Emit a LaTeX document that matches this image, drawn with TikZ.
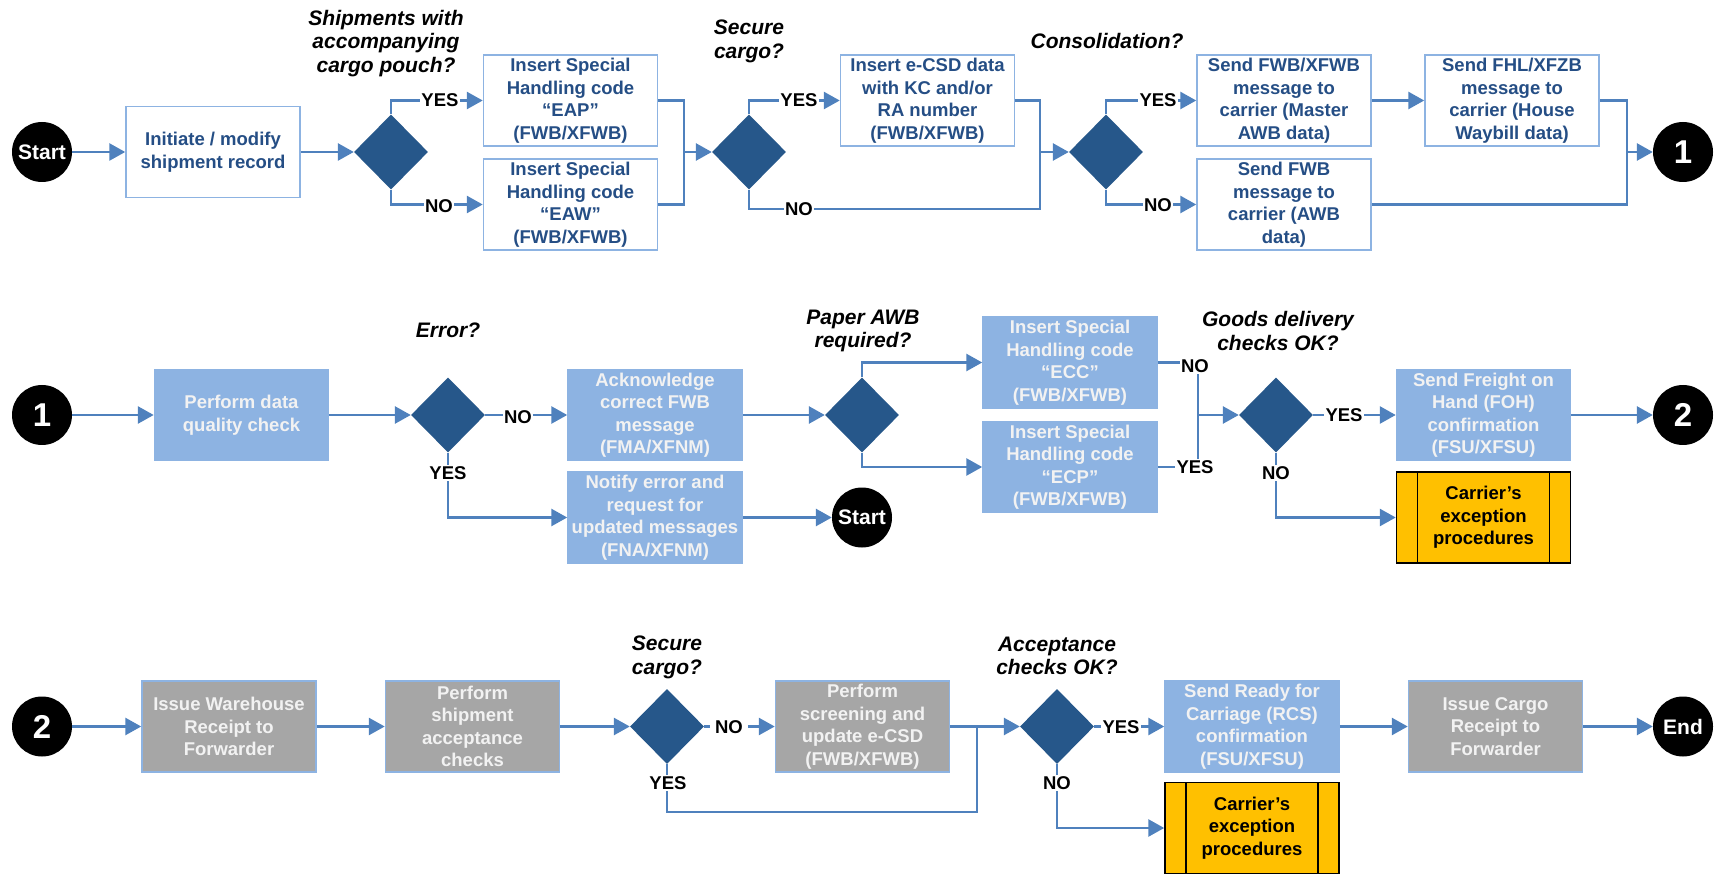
\documentclass[tikz,border=0pt]{standalone}
\usepackage{fontspec}
\setmainfont{Liberation Sans}
\usetikzlibrary{shapes.geometric,arrows.meta}
\definecolor{lnc}{HTML}{4F81BD}
\definecolor{bdc}{HTML}{8DB3E2}
\definecolor{lbf}{HTML}{8DB3E2}
\definecolor{dmc}{HTML}{26578A}
\definecolor{dtc}{HTML}{254E85}
\definecolor{gyf}{HTML}{A6A6A6}
\definecolor{ylf}{HTML}{FFC000}
\definecolor{wtc}{HTML}{F2F2F2}
\newcommand{\boxfont}{\fontsize{18.5}{22.5}\selectfont\bfseries}
\newcommand{\qfont}{\fontsize{21}{23.5}\selectfont\bfseries\itshape}
\newcommand{\labfont}{\fontsize{18.5}{22}\selectfont\bfseries}
\newcommand{\termfont}{\fontsize{21}{24}\selectfont\bfseries}
\newcommand{\numfont}{\fontsize{33}{36}\selectfont\bfseries}
\tikzset{
 basebox/.style={rectangle, minimum width=174pt, minimum height=91pt, inner sep=0pt, align=center, font=\boxfont, line width=1.5pt},
 wbox/.style={basebox, draw=bdc, fill=white, text=dtc},
 lbbox/.style={basebox, draw=bdc, fill=lbf, text=wtc},
 gbox/.style={basebox, draw=bdc, fill=gyf, text=wtc},
 ybox/.style={basebox, draw=black, fill=ylf, text=black,
   path picture={\draw[black,line width=1.5pt]
     ([xshift=21pt]path picture bounding box.north west) -- ([xshift=21pt]path picture bounding box.south west)
     ([xshift=-21pt]path picture bounding box.north east) -- ([xshift=-21pt]path picture bounding box.south east);}},
 dia/.style={diamond, fill=dmc, minimum width=74pt, minimum height=75pt, inner sep=0pt},
 term/.style={circle, fill=black, text=white, minimum size=60pt, inner sep=0pt, font=\termfont},
 numt/.style={term, font=\numfont},
 ln/.style={draw=lnc, line width=2.8pt},
 arr/.style={ln, -{Triangle[length=16pt,width=17pt]}},
 lab/.style={fill=white, inner sep=1.5pt, font=\labfont, text=black},
 ques/.style={align=center, font=\qfont, text=black, inner sep=0pt},
}
\begin{document}
\begin{tikzpicture}[x=1pt,y=-1pt]
\useasboundingbox (0,0) rectangle (1714,874);
% ---------- row 1 ----------
\node[term] (s1) at (42,152) {Start};
\node[wbox] (n1) at (213,152) {Initiate / modify\\shipment record};
\node[dia] (d1) at (391,152) {};
\node[wbox] (n2) at (570.5,100.5) {Insert Special\\Handling code\\“EAP”\\(FWB/XFWB)};
\node[wbox] (n3) at (570.5,204.5) {Insert Special\\Handling code\\“EAW”\\(FWB/XFWB)};
\node[dia] (d2) at (749,152) {};
\node[wbox] (n4) at (927.5,100.5) {Insert e-CSD data\\with KC and/or\\RA number\\(FWB/XFWB)};
\node[dia] (d3) at (1106,152) {};
\node[wbox] (n5) at (1284,100.5) {Send FWB/XFWB\\message to\\carrier (Master\\AWB data)};
\node[wbox] (n6) at (1512,100.5) {Send FHL/XFZB\\message to\\carrier (House\\Waybill data)};
\node[wbox] (n7) at (1284,204.5) {Send FWB\\message to\\carrier (AWB\\data)};
\node[numt] (c1) at (1683,152) {1};
\coordinate (j1) at (684,152);
\coordinate (j2) at (1040,152);
\coordinate (k2) at (1040,209);
\coordinate (j3) at (1627,152);
\node[ques] (q1) at (386,43.5) {Shipments with\\accompanying\\cargo pouch?};
\node[ques] (q2) at (749,41.5) {Secure\\cargo?};
\node[ques] (q3) at (1107,41) {Consolidation?};
% ---------- row 2 ----------
\node[numt] (c1b) at (42,415) {1};
\node[lbbox] (m1) at (241.5,415) {Perform data\\quality check};
\node[dia] (d4) at (448,415) {};
\node[lbbox] (m2) at (655,415) {Acknowledge\\correct FWB\\message\\(FMA/XFNM)};
\node[lbbox] (m3) at (655,517.5) {Notify error and\\request for\\updated messages\\(FNA/XFNM)};
\node[dia] (d5) at (862,415) {};
\node[lbbox] (m4) at (1070,362.5) {Insert Special\\Handling code\\“ECC”\\(FWB/XFWB)};
\node[lbbox] (m5) at (1070,467) {Insert Special\\Handling code\\“ECP”\\(FWB/XFWB)};
\node[term] (s2) at (862,517.5) {Start};
\node[dia] (d6) at (1276,415) {};
\node[lbbox] (m6) at (1483.5,415) {Send Freight on\\Hand (FOH)\\confirmation\\(FSU/XFSU)};
\node[numt] (c2) at (1683,415) {2};
\node[ybox] (m7) at (1483.5,517.5) {Carrier’s\\exception\\procedures};
\coordinate (j4) at (1198,415);
\node[ques] (q4) at (448,330) {Error?};
\node[ques] (q5) at (863,331) {Paper AWB\\required?};
\node[ques] (q6) at (1278,331) {Goods delivery\\checks OK?};
% ---------- row 3 ----------
\node[numt] (c2b) at (42,726.5) {2};
\node[gbox] (g1) at (229,726.5) {Issue Warehouse\\Receipt to\\Forwarder};
\node[gbox] (g2) at (472.5,726.5) {Perform\\shipment\\acceptance\\checks};
\node[dia] (d7) at (667,726.5) {};
\node[gbox] (g3) at (862.5,726.5) {Perform\\screening and\\update e-CSD\\(FWB/XFWB)};
\coordinate (j5) at (977,726.5);
\coordinate (k5) at (977,812);
\node[dia] (d8) at (1057,726.5) {};
\node[lbbox] (r1) at (1252,726.5) {Send Ready for\\Carriage (RCS)\\confirmation\\(FSU/XFSU)};
\node[gbox] (g4) at (1495.5,726.5) {Issue Cargo\\Receipt to\\Forwarder};
\node[term] (e1) at (1683,726.5) {End};
\node[ybox] (y2) at (1252,828) {Carrier’s\\exception\\procedures};
\node[ques] (q7) at (667,657.5) {Secure\\cargo?};
\node[ques] (q8) at (1057,656) {Acceptance\\checks OK?};
% ---------- connectors row 1 ----------
\draw[arr] (s1) -- (n1);
\draw[arr] (n1) -- (d1);
\draw[arr] (d1.north) |- (n2.west);
\draw[arr] (d1.south) |- (n3.west);
\draw[ln] (n2.east) -| (j1);
\draw[ln] (n3.east) -| (j1);
\draw[arr] (j1) -- (d2.west);
\draw[arr] (d2.north) |- (n4.west);
\draw[ln] (d2.south) |- (k2) -- (j2);
\draw[ln] (n4.east) -| (j2);
\draw[arr] (j2) -- (d3.west);
\draw[arr] (d3.north) |- (n5.west);
\draw[arr] (d3.south) |- (n7.west);
\draw[arr] (n5) -- (n6);
\draw[ln] (n6.east) -| (j3);
\draw[ln] (n7.east) -| (j3);
\draw[arr] (j3) -- (c1.west);
% ---------- connectors row 2 ----------
\draw[arr] (c1b) -- (m1);
\draw[arr] (m1) -- (d4);
\draw[arr] (d4.east) -- (m2.west);
\draw[arr] (d4.south) |- (m3.west);
\draw[arr] (m2) -- (d5);
\draw[arr] (d5.north) |- (m4.west);
\draw[arr] (d5.south) |- (m5.west);
\draw[arr] (m3) -- (s2);
\draw[ln] (m4.east) -| (j4);
\draw[ln] (m5.east) -| (j4);
\draw[arr] (j4) -- (d6.west);
\draw[arr] (d6.east) -- (m6.west);
\draw[arr] (m6) -- (c2);
\draw[arr] (d6.south) |- (m7.west);
% ---------- connectors row 3 ----------
\draw[arr] (c2b) -- (g1);
\draw[arr] (g1) -- (g2);
\draw[arr] (g2) -- (d7);
\draw[arr] (d7.east) -- (g3.west);
\draw[ln] (g3.east) -- (j5);
\draw[ln] (d7.south) |- (k5) -- (j5);
\draw[arr] (j5) -- (d8.west);
\draw[arr] (d8.east) -- (r1.west);
\draw[arr] (r1) -- (g4);
\draw[arr] (g4) -- (e1);
\draw[arr] (d8.south) |- (y2.west);
% ---------- branch labels ----------
\node[lab] (l1) at (440,100.5) {YES};
\node[lab] (l2) at (439,206) {NO};
\node[lab] (l3) at (799,100.5) {YES};
\node[lab] (l4) at (799,209) {NO};
\node[lab] (l5) at (1158,100.5) {YES};
\node[lab] (l6) at (1158,205) {NO};
\node[lab] (l7) at (518,417) {NO};
\node[lab] (l8) at (448,473) {YES};
\node[lab] (l9) at (1195,366) {NO};
\node[lab] (l10) at (1195,467) {YES};
\node[lab] (l11) at (1344,415) {YES};
\node[lab] (l12) at (1276,473) {NO};
\node[lab, inner xsep=5pt] (l13) at (729,727) {NO};
\node[lab] (l14) at (668,783) {YES};
\node[lab] (l15) at (1121,727) {YES};
\node[lab] (l16) at (1057,783) {NO};
\end{tikzpicture}
\end{document}
